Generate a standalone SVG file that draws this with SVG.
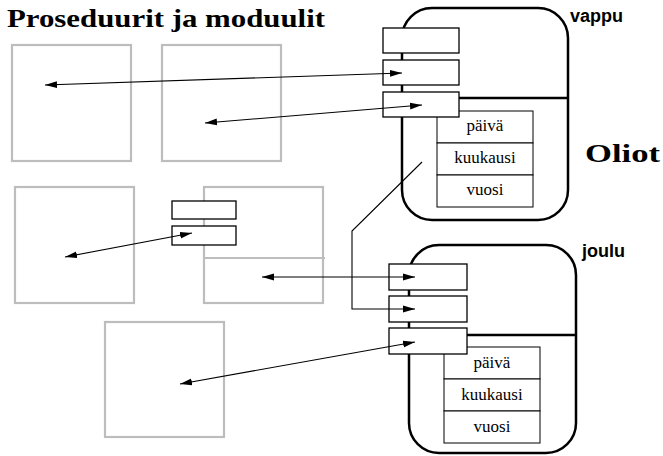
<svg xmlns="http://www.w3.org/2000/svg" width="663" height="456" viewBox="0 0 663 456">
<style>
.gray{fill:none;stroke:#bdbdbd;stroke-width:2.2}
.box{fill:#fff;stroke:#000;stroke-width:1.3}
.obj{fill:#fff;stroke:#000;stroke-width:2.5}
.div{stroke:#000;stroke-width:2.5}
.tab{fill:#fff;stroke:#000;stroke-width:1}
.conn{fill:none;stroke:#000;stroke-width:1.1}
.bi{marker-start:url(#ah);marker-end:url(#ah)}
.one{marker-end:url(#ah)}
</style>
<defs>
<marker id="ah" markerUnits="userSpaceOnUse" viewBox="0 0 12 8" refX="12" refY="4" markerWidth="12" markerHeight="8" orient="auto-start-reverse">
<path d="M0,0.6 L12,4 L0,7.4 z" fill="#000"/>
</marker>
</defs>
<rect width="663" height="456" fill="#fff"/>
<text x="7" y="27" font-family="Liberation Serif" font-weight="bold" font-size="26" textLength="318" lengthAdjust="spacingAndGlyphs">Proseduurit ja moduulit</text>
<text x="585" y="162" font-family="Liberation Serif" font-weight="bold" font-size="26" textLength="75" lengthAdjust="spacingAndGlyphs">Oliot</text>

<g id="proc1"><rect class="gray" x="12" y="45" width="119" height="116"/></g>
<g id="proc2"><rect class="gray" x="162" y="45" width="119" height="116"/></g>
<g id="proc3"><rect class="gray" x="15" y="187" width="119" height="116"/></g>
<g id="module"><rect class="gray" x="204" y="187" width="119" height="116"/><line class="gray" x1="204" y1="258" x2="325" y2="258"/>
<rect class="box" x="172" y="201" width="64" height="18"/><rect class="box" x="172" y="226" width="64" height="19"/></g>
<g id="proc4"><rect class="gray" x="105" y="322" width="119" height="115"/></g>

<g id="vappu">
<rect class="obj" x="402" y="8" width="166" height="212" rx="30" ry="30"/>
<line class="div" x1="459" y1="98" x2="568" y2="98"/>
<rect class="tab" x="437" y="111" width="96" height="32"/>
<rect class="tab" x="437" y="143" width="96" height="32"/>
<rect class="tab" x="437" y="175" width="96" height="32"/>
<text x="485" y="131" font-family="Liberation Serif" font-size="17" text-anchor="middle">päivä</text>
<text x="485" y="163" font-family="Liberation Serif" font-size="17" text-anchor="middle">kuukausi</text>
<text x="485" y="195" font-family="Liberation Serif" font-size="17" text-anchor="middle">vuosi</text>
<rect class="box" x="383" y="28" width="76" height="25"/>
<rect class="box" x="383" y="60" width="76" height="25"/>
<rect class="box" x="383" y="92" width="76" height="25"/>
<text x="570" y="22" font-family="Liberation Sans" font-weight="bold" font-size="18">vappu</text>
</g>

<g id="joulu">
<rect class="obj" x="409" y="245" width="167" height="208" rx="30" ry="30"/>
<line class="div" x1="467" y1="335" x2="576" y2="335"/>
<rect class="tab" x="444" y="347" width="96" height="32"/>
<rect class="tab" x="444" y="379" width="96" height="32"/>
<rect class="tab" x="444" y="411" width="96" height="32"/>
<text x="492" y="368" font-family="Liberation Serif" font-size="17" text-anchor="middle">päivä</text>
<text x="492" y="400" font-family="Liberation Serif" font-size="17" text-anchor="middle">kuukausi</text>
<text x="492" y="432" font-family="Liberation Serif" font-size="17" text-anchor="middle">vuosi</text>
<rect class="box" x="389" y="264" width="78" height="26"/>
<rect class="box" x="389" y="296" width="78" height="26"/>
<rect class="box" x="389" y="328" width="78" height="26"/>
<text x="582" y="257" font-family="Liberation Sans" font-weight="bold" font-size="18">joulu</text>
</g>

<g id="connectors">
<line class="conn bi" x1="45" y1="85" x2="402" y2="73"/>
<line class="conn bi" x1="205" y1="123" x2="422" y2="105"/>
<line class="conn bi" x1="65" y1="257" x2="192" y2="233"/>
<line class="conn bi" x1="262" y1="277" x2="415" y2="277"/>
<line class="conn bi" x1="180" y1="384" x2="415" y2="342"/>
<polyline class="conn one" points="422,162 352,231 352,309 415,309"/>
</g>
</svg>
